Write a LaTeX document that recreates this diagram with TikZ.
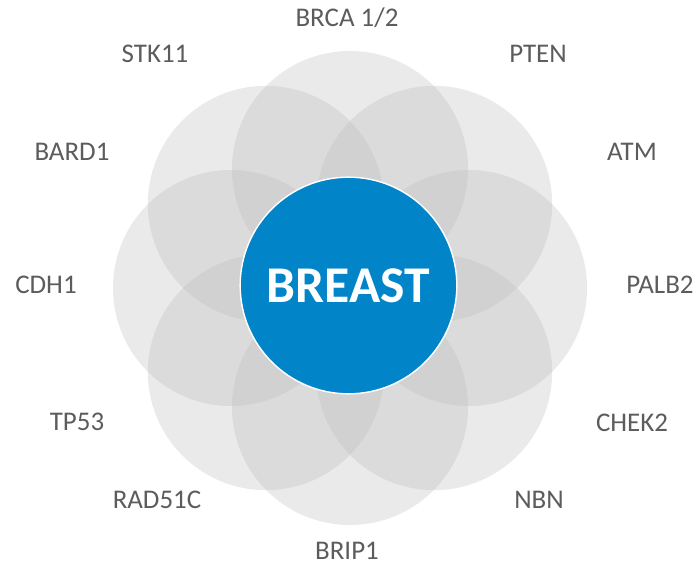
\documentclass[tikz,border=0pt]{standalone}
\usepackage{fontspec}
\setmainfont{Carlito}
\usepackage{xcolor}
\usetikzlibrary{calc,positioning}
\definecolor{breastblue}{RGB}{2,132,200}
\definecolor{genegray}{RGB}{92,92,92}

\begin{document}
\begin{tikzpicture}[x=0.03cm, y=-0.03cm]
  % pixel grid of the reference, y pointing down
  \tikzstyle{petal} = [circle, minimum size=7.08cm, inner sep=0pt, fill=gray!55, fill opacity=0.3, draw=none]
  \tikzstyle{hub} = [circle, minimum size=6.5cm, inner sep=0pt, fill=breastblue, draw=white, line width=1.2pt, text=white, font=\fontsize{44}{50}\selectfont\bfseries]
  \tikzstyle{gene} = [text=genegray, font=\fontsize{23}{27}\selectfont, text height=1.38ex, text depth=0pt, inner sep=0pt]

  \useasboundingbox (0,0) rectangle (700,571);
  \coordinate (c) at (350,288);

  % overlapping petals
  \foreach \a in {90,45,0,-45,-90,-135,180,135}
    \node[petal] (petal\a) at ($(c)+(\a:119)$) {};

  \node[hub] (breast) at (348.5,285.5) {BREAST};

  % gene labels
  \node[gene] (brca) at (347,23) {BRCA 1/2};
  \node[gene] (pten) at (538,59) {PTEN};
  \node[gene] (atm) at (632,157) {ATM};
  \node[gene] (palb2) at (660,290) {PALB2};
  \node[gene] (chek2) at (632,428) {CHEK2};
  \node[gene] (nbn) at (539,505) {NBN};
  \node[gene] (brip1) at (347,556) {BRIP1};
  \node[gene] (rad51c) at (157,505) {RAD51C};
  \node[gene] (tp53) at (77,427) {TP53};
  \node[gene] (cdh1) at (46,290) {CDH1};
  \node[gene] (bard1) at (72,157) {BARD1};
  \node[gene] (stk11) at (155,59) {STK11};
\end{tikzpicture}
\end{document}
